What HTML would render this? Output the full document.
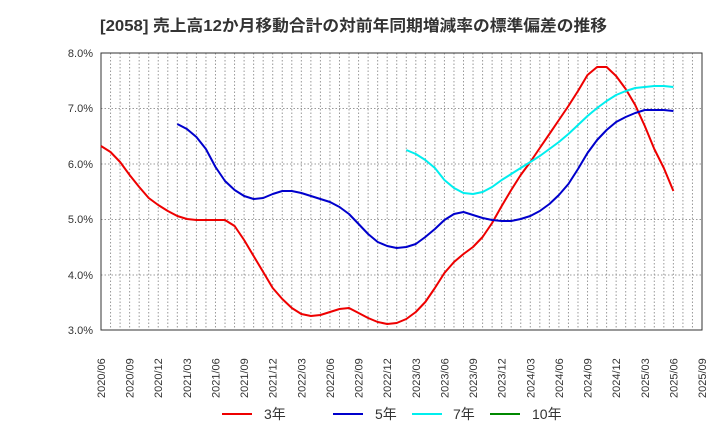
<!DOCTYPE html><html><head><meta charset="utf-8"><style>body{margin:0;background:#fff}svg{font-family:"Liberation Sans","Noto Sans CJK JP",sans-serif}</style></head><body>
<svg width="720" height="440" xmlns="http://www.w3.org/2000/svg">
<text x="100" y="31" font-size="16" font-weight="bold" fill="#333" textLength="507" lengthAdjust="spacingAndGlyphs">[2058]  売上高12か月移動合計の対前年同期増減率の標準偏差の推移</text>
<g id="grid" stroke="#999" stroke-dasharray="1.5,2" stroke-width="1"></g>
<rect x="101" y="53" width="601" height="277" fill="none" stroke="#333"/>
<g font-size="11" fill="#333" text-anchor="end" id="yl">
<text x="93" y="57">8.0%</text><text x="93" y="112">7.0%</text><text x="93" y="168">6.0%</text><text x="93" y="223">5.0%</text><text x="93" y="279">4.0%</text><text x="93" y="334">3.0%</text></g>
<g font-size="11" fill="#333" id="xl"></g>
<g fill="none" stroke-width="2" stroke-linejoin="round">
<polyline id="r" stroke="#e00"/><polyline id="b" stroke="#00c"/><polyline id="c" stroke="#0ee"/></g>
<g font-size="14" fill="#333">
<line x1="222" y1="414" x2="252" y2="414" stroke="#e00" stroke-width="2"/><text x="264" y="419">3年</text>
<line x1="333" y1="414" x2="363" y2="414" stroke="#00c" stroke-width="2"/><text x="375" y="419">5年</text>
<line x1="412" y1="414" x2="442" y2="414" stroke="#0ee" stroke-width="2"/><text x="453" y="419">7年</text>
<line x1="490" y1="414" x2="520" y2="414" stroke="#080" stroke-width="2"/><text x="532" y="419">10年</text></g>
</svg>
<script>
const X=m=>101+m*601/63;
let g=document.getElementById('grid'),h='';
for(let m=1;m<63;m++)h+=`<line x1="${X(m)}" y1="53" x2="${X(m)}" y2="330"/>`;
[108.5,164,219.5,275].forEach(y=>h+=`<line x1="101" y1="${y}" x2="702" y2="${y}"/>`);
g.innerHTML=h;
let xl='';
for(let i=0;i<=21;i++){let m=i*3,yr=2020+Math.floor((5+m)/12),mo=(5+m)%12+1;let x=X(m)+4;
xl+=`<text transform="translate(${x},398) rotate(-90)">${yr}/${String(mo).padStart(2,'0')}</text>`;}
document.getElementById('xl').innerHTML=xl;
const R=[146,152,162,175,187,198,205,211,216,219,220,220,220,220,226,240,256,272,288,299,308,314,316,315,312,309,308,313,318,322,324,323,319,312,302,288,273,262,254,247,237,223,206,190,175,162,148,134,120,106,91,75,67,67,76,89,105,126,149,168,191];
const B=[124,129,137,149,167,181,190,196,199,198,194,191,191,193,196,199,202,207,214,224,234,242,246,248,247,244,237,229,220,214,212,215,218,220,221,221,219,216,211,204,195,184,169,153,140,130,122,117,113,110,110,110,111];
const C=[150,154,160,168,180,188,193,194,192,187,180,174,168,162,156,149,142,134,125,116,108,101,95,91,88,87,86,86,87];
const P=(a,s)=>a.map((y,i)=>X(i+s).toFixed(1)+','+y).join(' ');
document.getElementById('r').setAttribute('points',P(R,0));
document.getElementById('b').setAttribute('points',P(B,8));
document.getElementById('c').setAttribute('points',P(C,32));
</script></body></html>
